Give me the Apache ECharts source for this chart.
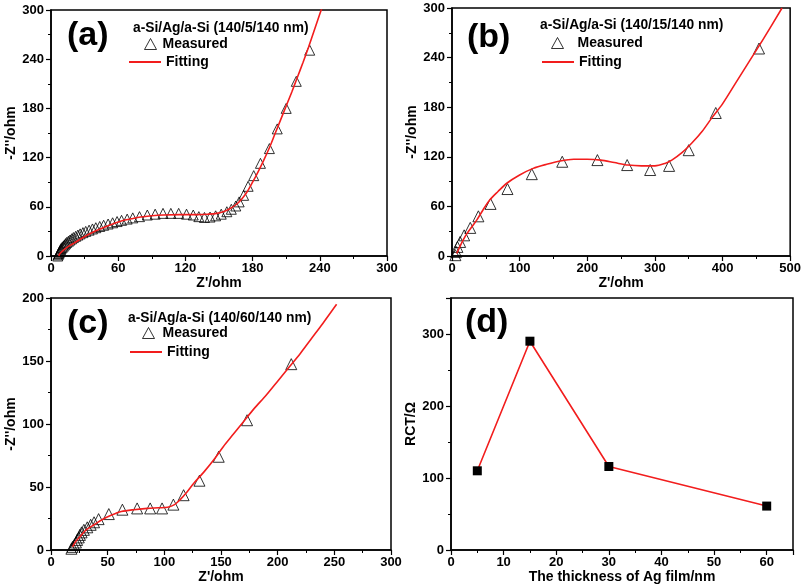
<!DOCTYPE html>
<html>
<head>
<meta charset="utf-8">
<script src="https://cdn.jsdelivr.net/npm/echarts@6/dist/echarts.min.js"></script>
<style>html,body{margin:0;padding:0;background:#fff;}#c{width:804px;height:586px;}</style>
</head>
<body>
<div id="c"></div>
<script>
// ---- data ----
const measuredA = [[6,0],[6.5,1.5],[7,3],[7.5,4.5],[8,6],[8.5,7.5],[9,9],[10,10.5],[11,12],[12,13.5],[13,15],[14,16.5],[15.5,18],[17,19.5],[18.5,21],[20,22.5],[22,24],[24,25.5],[26,27],[28.5,28.5],[31,30],[34,31.5],[37,33],[40,34.5],[43.5,36],[47,37.5],[51,39],[55,40.5],[59,42],[63,43.5],[68,45],[73,46.5],[79,48],[86,50],[93,51],[100,52],[107,52],[114,52],[121,51],[127,50],[132,48],[137,47],[142,47.5],[147,49],[152,51],[157,54],[161,57],[165,61],[168,66],[172,74],[176,85],[181,98],[187,113],[195,131],[202,155],[210,180],[219,213],[231,251]];
const fittingA = [[7,0],[8,3],[12,8],[16,12],[21,16],[28,22],[36,28],[44,33],[51,37],[58,40.5],[65,43.5],[72,45.5],[80,47.5],[90,49],[100,50],[115,50.5],[130,50.5],[140,51],[148,52],[155,54.5],[160,58],[165,62.5],[170,69],[175,78],[180,90],[185,103],[190,117],[195,132],[200,149],[205,166],[210,183],[215,200],[220,218],[225,236],[230,255],[235,275],[240,295],[242,303]];
const measuredB = [[5,1],[6,5],[8,11],[12,17],[18,25],[27,34],[39,48],[57,63],[82,81],[118,99],[163,114],[215,116],[259,110],[293,104],[321,109],[350,128],[390,173],[454,251]];
const fittingB = [[7,3],[12,12],[17,20],[22,27],[30,36],[37,44],[46,56],[56,68],[68,78],[81,88],[100,98],[120,106],[140,111],[160,115],[180,117],[200,117],[220,116],[240,113],[260,110],[280,109],[300,109],[315,112],[325,116],[340,125],[355,137],[370,151],[385,168],[400,184],[420,210],[440,236],[460,262],[488,300]];
const measuredC = [[18,1],[19,2.5],[20.5,4],[22,6],[23,8],[24.5,10],[25.5,12],[27,14],[29,16],[32,18],[35,20],[38,22],[42,24.5],[51,28.5],[63,32],[76,33],[87.5,33],[98,33],[108,36],[117,43.5],[131,55],[148,74],[173,103],[212,147.5]];
const fittingC = [[19,2.5],[22,7],[26,11],[31,16],[38,20],[45,24],[53,27.5],[62,30.5],[73,32],[85,33],[95,33.5],[103,34],[109,36],[114,40],[120,46],[126,53],[135,62],[144,72],[152,82],[161,92],[170,102],[179,112],[190,123],[200,134],[210,145],[220,156],[230,168],[240,180],[252,195]];
const thicknessD = [5, 15, 30, 60];
const rctD = [110, 290, 116, 61];
const panelLabels = ['(a)', '(b)', '(c)', '(d)'];
const headers = ['a-Si/Ag/a-Si (140/5/140 nm)', 'a-Si/Ag/a-Si (140/15/140 nm)', 'a-Si/Ag/a-Si (140/60/140 nm)'];
const xNames = ["Z'/ohm", "Z'/ohm", "Z'/ohm", 'The thickness of Ag film/nm'];
const yNames = ["-Z''/ohm", "-Z''/ohm", "-Z''/ohm", 'RCT/\u03a9'];
const xRanges = [[0,300,60],[0,500,100],[0,300,50],[0,65,10]];
const yRanges = [[0,300,60],[0,300,60],[0,200,50],[0,350,100]];

// ---- layout ----
const FONT = "'Liberation Sans', Arial, Helvetica, sans-serif";
const grids = [
  {left:51, top:10, right:417, bottom:330},
  {left:452, top:8, right:12, bottom:330},
  {left:51, top:298, right:413, bottom:36},
  {left:451, top:298, right:11, bottom:36}
];
const RED = '#f21d1d';

function axisBase(){
  return {
    axisLine:{show:true, onZero:false, lineStyle:{color:'#000', width:1.5}},
    axisTick:{show:true, inside:false, length:5, lineStyle:{color:'#000', width:1.2}},
    minorTick:{show:true, splitNumber:2, length:3, lineStyle:{color:'#000', width:1}},
    splitLine:{show:false},
    axisLabel:{color:'#000', fontFamily:FONT, fontWeight:'bold', fontSize:13},
    nameLocation:'middle',
    nameTextStyle:{color:'#000', fontFamily:FONT, fontWeight:'bold', fontSize:14}
  };
}
const xAxes = xRanges.map((r,i)=>Object.assign(axisBase(), {
  type:'value', gridIndex:i, min:r[0], max:r[1], interval:r[2], name:xNames[i], nameGap:20,
  axisLabel:Object.assign(axisBase().axisLabel, {margin:6, showMaxLabel: i!==3})
}));
const yAxes = yRanges.map((r,i)=>Object.assign(axisBase(), {
  type:'value', gridIndex:i, min:r[0], max:r[1], interval:r[2], name:yNames[i], nameGap:33,
  axisLabel:Object.assign(axisBase().axisLabel, {margin:7, showMaxLabel: i!==3})
}));

const scatterStyle = {color:'rgba(0,0,0,0)', borderColor:'#000', borderWidth:1};
function meas(i,data,size){ return {name:'Measured', type:'scatter', xAxisIndex:i, yAxisIndex:i, data:data, symbol:'triangle', symbolSize:size, itemStyle:scatterStyle, z:2}; }
function fit(i,data){ return {name:'Fitting', type:'line', xAxisIndex:i, yAxisIndex:i, data:data, showSymbol:false, symbol:'none', smooth:0.3, lineStyle:{color:RED, width:1.6}, itemStyle:{color:RED}, z:3, clip:true}; }

const series = [
  meas(0, measuredA, 10), fit(0, fittingA),
  meas(1, measuredB, 11), fit(1, fittingB),
  meas(2, measuredC, 11), fit(2, fittingC),
  {name:'RCT', type:'line', xAxisIndex:3, yAxisIndex:3, data:thicknessD.map((t,k)=>[t, rctD[k]]), symbol:'rect', symbolSize:9, showSymbol:true,
   lineStyle:{color:RED, width:1.6}, itemStyle:{color:'#000'}, z:3}
];

const labelPos = [{left:67, top:19},{left:467, top:21},{left:67, top:307},{left:465, top:306}];
const headerPos = [{left:133, top:21},{left:540, top:18},{left:128, top:311}];
const measLegendPos = [{left:144, top:37, pad:1},{left:551, top:36, pad:9},{left:142, top:326, pad:3}];
const fitLegendPos = [{left:129, top:55},{left:542, top:55},{left:130, top:345}];

const titles = [];
panelLabels.forEach((t,i)=>titles.push({text:t, left:labelPos[i].left, top:labelPos[i].top, padding:0,
  textStyle:{fontFamily:FONT, fontWeight:'bold', fontSize:34, color:'#000'}}));
headers.forEach((t,i)=>titles.push({text:t, left:headerPos[i].left, top:headerPos[i].top, padding:0,
  textStyle:{fontFamily:FONT, fontWeight:'bold', fontSize:13.8, color:'#000'}}));

const legendText = {fontFamily:FONT, fontWeight:'bold', fontSize:14, color:'#000'};
const legends = [];
measLegendPos.forEach(p=>legends.push({
  left:p.left, top:p.top, orient:'vertical', itemWidth:12, itemHeight:11, padding:0, selectedMode:false,
  data:[{name:'Measured', icon:'triangle', itemStyle:{color:'rgba(0,0,0,0)', borderColor:'#000', borderWidth:1}}],
  textStyle:Object.assign({}, legendText, {padding:[0,0,0,p.pad]})
}));
fitLegendPos.forEach(p=>legends.push({
  left:p.left, top:p.top, orient:'vertical', itemWidth:32, itemHeight:2, padding:0, selectedMode:false,
  data:[{name:'Fitting', icon:'rect', itemStyle:{color:RED, borderWidth:0}}],
  textStyle:legendText
}));

const chart = echarts.init(document.getElementById('c'), null, {renderer:'canvas'});
chart.setOption({
  backgroundColor:'#fff',
  animation:false,
  title:titles,
  legend:legends,
  grid:grids.map(g=>Object.assign({show:true, borderColor:'#000', borderWidth:1.5, backgroundColor:'rgba(0,0,0,0)', containLabel:false}, g)),
  xAxis:xAxes,
  yAxis:yAxes,
  series:series
});
</script>
</body>
</html>
